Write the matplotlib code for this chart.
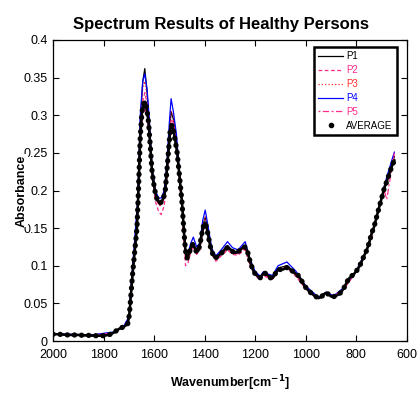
import matplotlib
matplotlib.use("Agg")
import matplotlib.pyplot as plt
from matplotlib.lines import Line2D

plt.rcParams['font.family'] = ['Liberation Sans', 'DejaVu Sans']

# average spectrum (black dots)
avg_wn = [2000, 1980, 1960, 1940, 1920, 1900, 1880, 1860, 1840, 1820, 1800, 1780, 1760, 1740,
          1720, 1705, 1698, 1692, 1685, 1675, 1668, 1662, 1655, 1648, 1640, 1635, 1628, 1622,
          1615, 1609, 1603, 1595, 1587, 1578, 1570, 1562, 1556, 1550, 1543, 1536, 1530, 1524,
          1516, 1509, 1500, 1490, 1482, 1476, 1470, 1462, 1455, 1448, 1440, 1432, 1425, 1418,
          1410, 1404, 1398, 1392, 1385, 1378, 1370, 1360, 1350, 1340, 1330, 1320, 1310, 1300,
          1290, 1280, 1270, 1260, 1250, 1240, 1230, 1220, 1210, 1200, 1190, 1180, 1170, 1160,
          1150, 1140, 1130, 1120, 1110, 1100, 1090, 1080, 1070, 1060, 1050, 1040, 1030, 1020,
          1010, 1000, 990, 980, 970, 960, 950, 940, 930, 920, 910, 900, 890, 880, 870, 860,
          850, 840, 830, 820, 810, 800, 790, 780, 770, 760, 750, 740, 730, 720, 710, 700,
          690, 680, 670, 660, 650]
avg_abs = [0.009, 0.009, 0.0085, 0.008, 0.008, 0.008, 0.0075, 0.0075, 0.007, 0.007, 0.007, 0.008,
           0.011, 0.016, 0.019, 0.022, 0.035, 0.06, 0.09, 0.125, 0.15, 0.2, 0.27, 0.305, 0.316,
           0.318, 0.306, 0.29, 0.258, 0.228, 0.212, 0.196, 0.187, 0.183, 0.185, 0.191, 0.2,
           0.225, 0.255, 0.282, 0.287, 0.28, 0.265, 0.25, 0.22, 0.185, 0.145, 0.12, 0.11, 0.116,
           0.124, 0.128, 0.124, 0.118, 0.12, 0.13, 0.145, 0.154, 0.157, 0.15, 0.138, 0.126,
           0.117, 0.11, 0.112, 0.115, 0.118, 0.122, 0.124, 0.122, 0.119, 0.117, 0.118, 0.121,
           0.124, 0.125, 0.118, 0.105, 0.095, 0.089, 0.086, 0.084, 0.089, 0.09, 0.087, 0.084,
           0.084, 0.09, 0.095, 0.095, 0.095, 0.097, 0.098, 0.095, 0.092, 0.089, 0.087, 0.082,
           0.076, 0.071, 0.067, 0.064, 0.061, 0.059, 0.057, 0.058, 0.062, 0.064, 0.062, 0.059,
           0.059, 0.06, 0.062, 0.065, 0.07, 0.077, 0.083, 0.086, 0.089, 0.093, 0.098, 0.105,
           0.113, 0.12, 0.13, 0.143, 0.152, 0.165, 0.178, 0.19, 0.203, 0.212, 0.222, 0.232, 0.24]

# individual persons
p_wn = [2000, 1850, 1760, 1720, 1700, 1690, 1678, 1665, 1655, 1645, 1637, 1628, 1618, 1608,
        1595, 1582, 1572, 1560, 1550, 1540, 1533, 1524, 1512, 1500, 1488, 1476, 1466, 1455,
        1445, 1432, 1420, 1408, 1398, 1388, 1372, 1356, 1335, 1310, 1290, 1268, 1240, 1222,
        1200, 1180, 1168, 1150, 1132, 1110, 1075, 1040, 1000, 950, 920, 890, 850, 800, 760,
        730, 705, 690, 680, 665, 650]
p1 = [0.009, 0.007, 0.011, 0.019, 0.03, 0.075, 0.122, 0.18, 0.29, 0.345, 0.362, 0.33, 0.28, 0.225,
      0.195, 0.186, 0.185, 0.194, 0.228, 0.275, 0.305, 0.295, 0.268, 0.222, 0.175, 0.116, 0.113,
      0.125, 0.131, 0.12, 0.126, 0.153, 0.164, 0.15, 0.121, 0.111, 0.118, 0.127, 0.12, 0.118,
      0.127, 0.106, 0.09, 0.085, 0.09, 0.087, 0.085, 0.097, 0.1, 0.09, 0.071, 0.057, 0.064,
      0.059, 0.07, 0.093, 0.12, 0.152, 0.184, 0.203, 0.214, 0.23, 0.245]
p2 = [0.009, 0.007, 0.011, 0.018, 0.028, 0.07, 0.118, 0.175, 0.275, 0.318, 0.33, 0.315, 0.27, 0.215,
      0.185, 0.172, 0.168, 0.18, 0.215, 0.265, 0.295, 0.29, 0.262, 0.215, 0.165, 0.1, 0.104,
      0.118, 0.126, 0.115, 0.12, 0.145, 0.158, 0.14, 0.115, 0.106, 0.113, 0.121, 0.115, 0.114,
      0.122, 0.1, 0.087, 0.081, 0.087, 0.084, 0.082, 0.093, 0.097, 0.086, 0.069, 0.056, 0.063,
      0.058, 0.069, 0.092, 0.119, 0.15, 0.184, 0.203, 0.212, 0.23, 0.248]
p3 = [0.009, 0.007, 0.011, 0.019, 0.029, 0.072, 0.12, 0.178, 0.285, 0.335, 0.345, 0.325, 0.28, 0.222,
      0.193, 0.182, 0.181, 0.19, 0.222, 0.272, 0.305, 0.298, 0.268, 0.22, 0.172, 0.112, 0.11,
      0.122, 0.13, 0.118, 0.124, 0.152, 0.165, 0.148, 0.119, 0.109, 0.117, 0.126, 0.119, 0.117,
      0.126, 0.104, 0.088, 0.083, 0.088, 0.086, 0.083, 0.095, 0.099, 0.088, 0.07, 0.057, 0.064,
      0.059, 0.07, 0.093, 0.12, 0.151, 0.183, 0.202, 0.213, 0.228, 0.243]
p4 = [0.010, 0.008, 0.012, 0.020, 0.032, 0.08, 0.13, 0.19, 0.3, 0.345, 0.355, 0.335, 0.29, 0.23,
      0.2, 0.19, 0.19, 0.2, 0.235, 0.29, 0.322, 0.305, 0.275, 0.225, 0.175, 0.118, 0.117, 0.13,
      0.138, 0.125, 0.13, 0.16, 0.174, 0.155, 0.123, 0.113, 0.121, 0.132, 0.124, 0.121, 0.132,
      0.11, 0.092, 0.086, 0.092, 0.089, 0.087, 0.1, 0.105, 0.093, 0.073, 0.058, 0.065, 0.06,
      0.071, 0.094, 0.121, 0.153, 0.186, 0.206, 0.218, 0.235, 0.251]
p5 = [0.009, 0.007, 0.011, 0.019, 0.028, 0.068, 0.112, 0.168, 0.265, 0.3, 0.31, 0.298, 0.268, 0.22,
      0.192, 0.18, 0.18, 0.19, 0.22, 0.26, 0.28, 0.276, 0.255, 0.216, 0.17, 0.11, 0.11, 0.12,
      0.126, 0.118, 0.122, 0.145, 0.153, 0.142, 0.118, 0.108, 0.115, 0.122, 0.117, 0.116, 0.123,
      0.103, 0.088, 0.083, 0.088, 0.086, 0.083, 0.094, 0.097, 0.088, 0.07, 0.057, 0.064, 0.059,
      0.07, 0.093, 0.12, 0.152, 0.184, 0.2, 0.188, 0.22, 0.25]

labels = ['P1', 'P2', 'P3', 'P4', 'P5']
colors = ['#000000', '#ff2a8c', '#ff3030', '#0000ff', '#ff2a8c']
styles = ['-', (0, (3, 2)), ':', '-', (0, (1.5, 2, 5, 2))]

fig = plt.figure(figsize=(4.2, 3.96), dpi=100)
ax = fig.add_axes([53 / 420, 55 / 396, 354 / 420, 301 / 396])

handles = []
for vals, lab, col, ls in zip([p1, p2, p3, p4, p5], labels, colors, styles):
    h, = ax.plot(p_wn, vals, color=col, linestyle=ls, linewidth=0.9, label=lab)
    handles.append(h)

# average drawn as a thick line with dense round dots on top
ax.plot(avg_wn, avg_abs, color='black', linewidth=1.8)
ax.plot(avg_wn, avg_abs, color='black', linewidth=3.8, linestyle=(0, (0.05, 1.3)),
        dash_capstyle='round')
handles.append(Line2D([], [], color='black', marker='.', markersize=6, linestyle='none',
                      label='AVERAGE'))

ax.set_xlim(2000, 600)
ax.set_ylim(0, 0.4)
ax.set_xticks(range(2000, 599, -200))
ax.set_yticks([0, 0.05, 0.1, 0.15, 0.2, 0.25, 0.3, 0.35, 0.4])
ax.set_yticklabels(['0', '0.05', '0.1', '0.15', '0.2', '0.25', '0.3', '0.35', '0.4'])
ax.tick_params(direction='in', top=True, right=True, length=4, width=0.8, labelsize=9)
ax.tick_params(axis='x', pad=6)
ax.tick_params(axis='y', pad=4)
for s in ax.spines.values():
    s.set_linewidth(0.9)

ax.set_title('Spectrum Results of Healthy Persons', fontsize=12, fontweight='bold',
             pad=8, x=0.475)
ax.set_xlabel(r'Wavenumber[cm$^{\mathbf{-1}}$]', fontsize=9, fontweight='bold', labelpad=9)
ax.set_ylabel('Absorbance', fontsize=9, fontweight='bold')
# label sits over the leading zeros of the middle tick labels, as in the original
ax.yaxis.set_label_coords(-0.072, 0.5)
ax.yaxis.label.set_bbox(dict(facecolor='white', edgecolor='none', pad=0.5))

leg = ax.legend(handles=handles, loc='upper right', bbox_to_anchor=(0.985, 0.993),
                fontsize=7, labelcolor='linecolor', handlelength=2.6, handletextpad=0.3,
                labelspacing=0.4, borderpad=0.45, fancybox=False, framealpha=1,
                edgecolor='black')
leg.get_frame().set_linewidth(1.8)
leg.get_texts()[5].set_color('black')

fig.savefig('out.png', dpi=100)
